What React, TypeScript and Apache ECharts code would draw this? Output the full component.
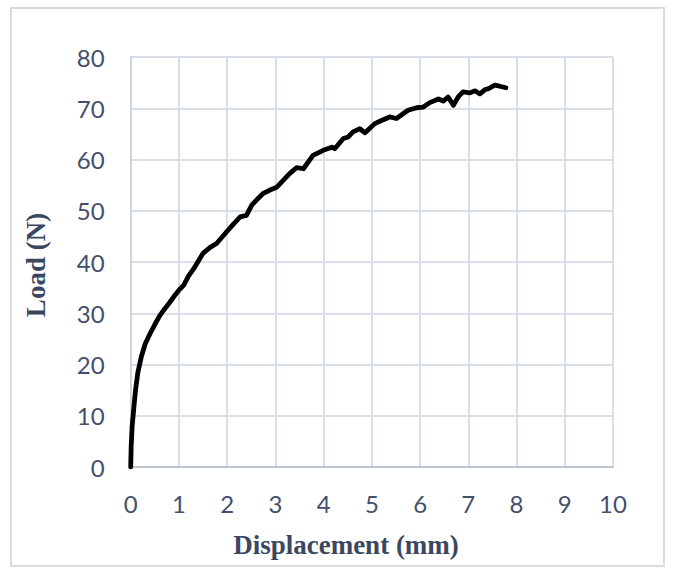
import React, { useEffect, useRef } from "react";
import * as echarts from "echarts";

const displacement = [
  0, 0.01, 0.03, 0.06, 0.1, 0.15, 0.22, 0.3, 0.4, 0.5, 0.6, 0.7, 0.8, 0.9, 1.0, 1.1, 1.2, 1.3,
  1.5, 1.64, 1.78, 1.99, 2.13, 2.27, 2.4, 2.51, 2.63, 2.75, 2.9, 3.03, 3.2, 3.3, 3.44, 3.58,
  3.78, 3.99, 4.17, 4.23, 4.41, 4.51, 4.61, 4.75, 4.86, 5.06, 5.2, 5.37, 5.51, 5.75, 5.93,
  6.06, 6.2, 6.38, 6.48, 6.58, 6.69, 6.79, 6.89, 7.03, 7.14, 7.24, 7.34, 7.41, 7.55, 7.65, 7.78,
];
const load = [
  0, 4, 8, 11, 15, 18.5, 21.5, 24, 26, 27.8, 29.5, 30.8, 32, 33.3, 34.5, 35.5, 37.3, 38.6,
  41.7, 42.8, 43.6, 45.9, 47.4, 48.8, 49.1, 51.1, 52.3, 53.4, 54.1, 54.6, 56.3, 57.3, 58.4, 58.2,
  60.8, 61.8, 62.4, 62.1, 64.1, 64.4, 65.4, 66.0, 65.2, 67.0, 67.6, 68.3, 68.0, 69.6, 70.1,
  70.2, 71.1, 71.8, 71.4, 72.2, 70.6, 72.2, 73.2, 73.0, 73.4, 72.8, 73.6, 73.8, 74.5, 74.3, 74.0,
];
const xTicks = { min: 0, max: 10, interval: 1 };
const yTicks = { min: 0, max: 80, interval: 10 };
const xTitle = "Displacement (mm)";
const yTitle = "Load (N)";

export default function App() {
  const ref = useRef<HTMLDivElement>(null);
  useEffect(() => {
    if (!ref.current) return;
    const chart = echarts.init(ref.current, undefined, { renderer: "svg" });
    const tickStyle = { color: "#44506a", fontFamily: "Lato", fontSize: 24 };
    const gridColor = "#dadee8";
    chart.setOption({
      animation: false,
      backgroundColor: "#ffffff",
      grid: { left: 130.7, right: 60, top: 57, bottom: 104 },
      xAxis: {
        type: "value",
        ...xTicks,
        axisLine: { show: true, lineStyle: { color: "#bcc4d4", width: 2 } },
        axisTick: { show: false },
        axisLabel: { ...tickStyle, margin: 24 },
        splitLine: { show: true, lineStyle: { color: gridColor, width: 2 } },
      },
      yAxis: {
        type: "value",
        ...yTicks,
        axisLine: { show: true, lineStyle: { color: "#cdd3e0", width: 2 } },
        axisTick: { show: false },
        axisLabel: { ...tickStyle, margin: 26 },
        splitLine: { show: true, lineStyle: { color: gridColor, width: 2 } },
      },
      graphic: [
        {
          type: "rect",
          shape: { x: 11, y: 8, width: 653, height: 558 },
          style: { fill: "none", stroke: "#d9dbe0", lineWidth: 2 },
          silent: true,
        },
        {
          type: "text",
          x: 346,
          y: 545,
          style: {
            text: xTitle,
            font: "bold 27px 'Liberation Serif'",
            fill: "#3b4760",
            textAlign: "center",
            textVerticalAlign: "middle",
          },
        },
        {
          type: "text",
          x: 36,
          y: 265,
          rotation: Math.PI / 2,
          style: {
            text: yTitle,
            font: "bold 27px 'Liberation Serif'",
            fill: "#3b4760",
            textAlign: "center",
            textVerticalAlign: "middle",
          },
        },
      ],
      series: [
        {
          type: "line",
          data: displacement.map((d, i) => [d, load[i]]),
          showSymbol: false,
          lineStyle: { color: "#000000", width: 4.8, join: "round", cap: "round" },
        },
      ],
    });
    return () => chart.dispose();
  }, []);
  return (
    <div
      ref={ref}
      style={{ position: "fixed", left: 0, top: 0, width: 673, height: 571 }}
    />
  );
}
